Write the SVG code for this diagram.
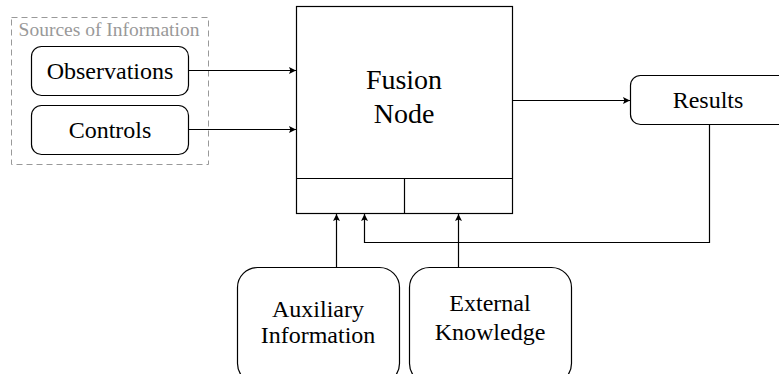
<svg xmlns="http://www.w3.org/2000/svg" width="779" height="374" viewBox="0 0 779 374">
<defs>
<style>
.box{fill:#fff;stroke:#000;stroke-width:1.2}
.t{font-family:'Liberation Serif','Times New Roman',serif;fill:#000;text-anchor:middle;font-size:24px}
.c{fill:none;stroke:#000;stroke-width:1.2}
</style>
<marker id="ah" viewBox="0 0 10 10" refX="10" refY="5" markerWidth="9" markerHeight="7" markerUnits="userSpaceOnUse" orient="auto">
<path d="M0,0 L10,5 L0,10 L2,5 z" fill="#000"/>
</marker>
</defs>
<rect width="779" height="374" fill="#fff"/>
<g id="sources">
<rect x="11.5" y="17.5" width="197" height="147" fill="none" stroke="#999" stroke-width="1" stroke-dasharray="6,4"/>
<text class="t" x="109" y="36" style="fill:#999;font-size:19.5px">Sources of Information</text>
</g>
<g id="observations">
<rect class="box" x="31.5" y="46.5" width="157" height="49" rx="10"/>
<text class="t" x="110" y="79">Observations</text>
</g>
<g id="controls">
<rect class="box" x="31.5" y="105.5" width="157" height="49" rx="10"/>
<text class="t" x="110" y="138">Controls</text>
</g>
<g id="fusion">
<rect class="box" x="296.5" y="6.5" width="216" height="207"/>
<line class="c" x1="296.5" y1="178.5" x2="512.5" y2="178.5"/>
<line class="c" x1="404.5" y1="178.5" x2="404.5" y2="213.5"/>
<text class="t" x="404" y="89" style="font-size:28px">Fusion</text>
<text class="t" x="404" y="123" style="font-size:28px">Node</text>
</g>
<g id="results">
<rect class="box" x="630.5" y="75.5" width="170" height="49" rx="10"/>
<text class="t" x="708" y="108">Results</text>
</g>
<g id="auxiliary">
<rect class="box" x="237.5" y="267.5" width="162" height="116" rx="20"/>
<text class="t" x="318" y="317">Auxiliary</text>
<text class="t" x="318" y="343">Information</text>
</g>
<g id="external">
<rect class="box" x="409.5" y="267.5" width="162" height="116" rx="20"/>
<text class="t" x="490" y="311">External</text>
<text class="t" x="490" y="340">Knowledge</text>
</g>
<g id="connectors">
<line class="c" x1="188.5" y1="70.5" x2="296" y2="70.5" marker-end="url(#ah)"/>
<line class="c" x1="188.5" y1="129.5" x2="296" y2="129.5" marker-end="url(#ah)"/>
<line class="c" x1="512.5" y1="100.5" x2="630" y2="100.5" marker-end="url(#ah)"/>
<polyline class="c" points="709.5,124.5 709.5,242.5 364.5,242.5 364.5,214" marker-end="url(#ah)"/>
<line class="c" x1="336.5" y1="267.5" x2="336.5" y2="214" marker-end="url(#ah)"/>
<line class="c" x1="458.5" y1="267.5" x2="458.5" y2="214" marker-end="url(#ah)"/>
</g>
</svg>
